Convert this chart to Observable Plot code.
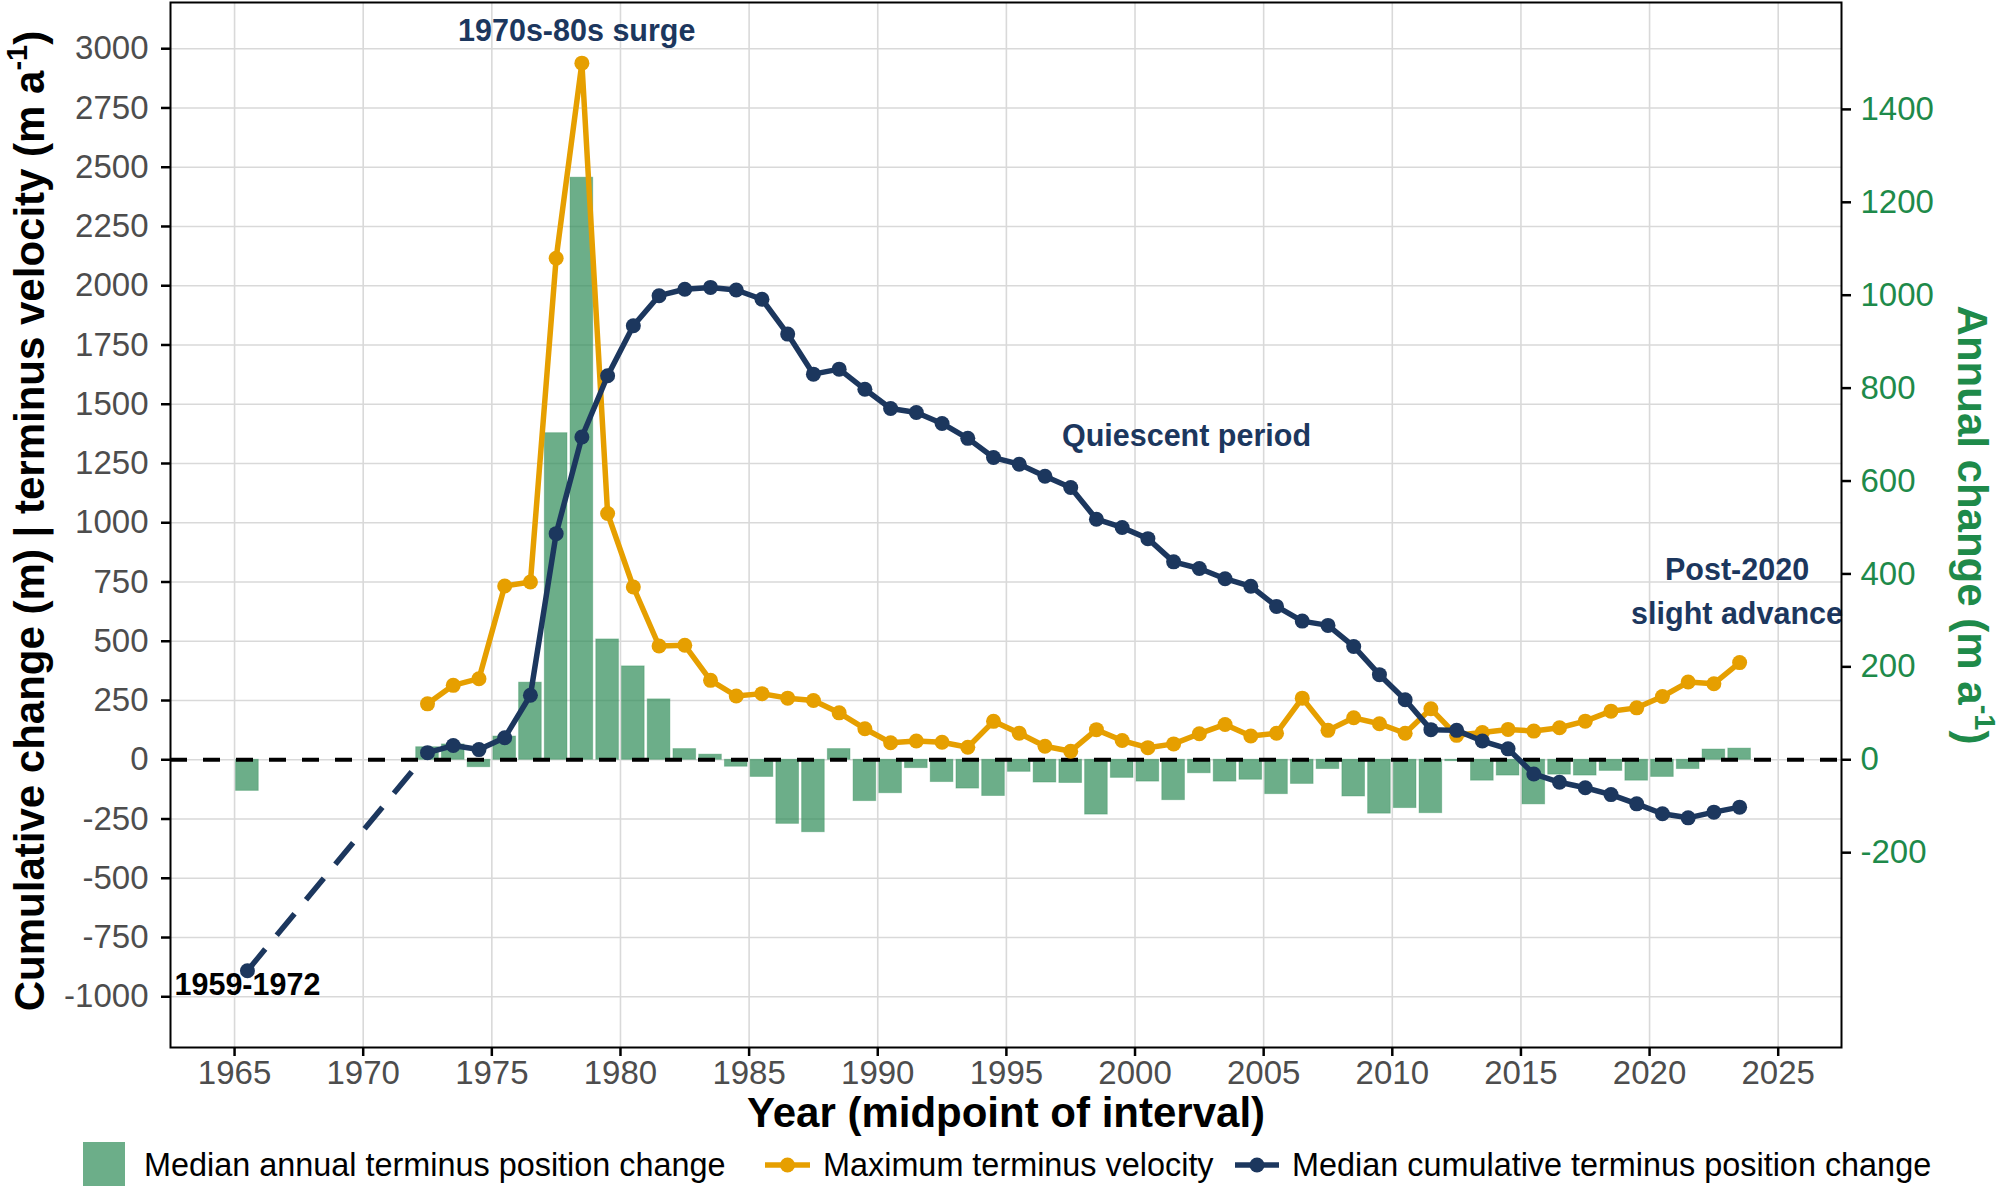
<!DOCTYPE html>
<html>
<head>
<meta charset="utf-8">
<script src="https://cdn.jsdelivr.net/npm/d3@7"></script>
<script src="https://cdn.jsdelivr.net/npm/@observablehq/plot@0.6"></script>
<style>
  body { margin: 0; background: #fff; }
  #chart svg { display: block; }
</style>
</head>
<body>
<div id="chart"></div>
<script>
// ---------------- data ----------------
const barYears = [1965.5, 1972.5, 1973.5, 1974.5, 1975.5, 1976.5, 1977.5, 1978.5, 1979.5, 1980.5,
  1981.5, 1982.5, 1983.5, 1984.5, 1985.5, 1986.5, 1987.5, 1988.5, 1989.5, 1990.5,
  1991.5, 1992.5, 1993.5, 1994.5, 1995.5, 1996.5, 1997.5, 1998.5, 1999.5, 2000.5,
  2001.5, 2002.5, 2003.5, 2004.5, 2005.5, 2006.5, 2007.5, 2008.5, 2009.5, 2010.5,
  2011.5, 2012.5, 2013.5, 2014.5, 2015.5, 2016.5, 2017.5, 2018.5, 2019.5, 2020.5,
  2021.5, 2022.5, 2023.5];
// Median annual terminus position change (m a-1), right axis
const annualChange = [-67, 27, 33, -16, 50, 166, 703, 1253, 259, 201,
  130, 23, 11, -15, -37, -138, -156, 23, -89, -72,
  -18, -48, -62, -78, -26, -49, -50, -118, -39, -47,
  -87, -29, -47, -43, -74, -52, -20, -79, -116, -104,
  -115, -3, -45, -34, -96, -32, -34, -24, -45, -37,
  -20, 22, 24];

const velYears = [1972.5, 1973.5, 1974.5, 1975.5, 1976.5, 1977.5, 1978.5, 1979.5, 1980.5,
  1981.5, 1982.5, 1983.5, 1984.5, 1985.5, 1986.5, 1987.5, 1988.5, 1989.5, 1990.5,
  1991.5, 1992.5, 1993.5, 1994.5, 1995.5, 1996.5, 1997.5, 1998.5, 1999.5, 2000.5,
  2001.5, 2002.5, 2003.5, 2004.5, 2005.5, 2006.5, 2007.5, 2008.5, 2009.5, 2010.5,
  2011.5, 2012.5, 2013.5, 2014.5, 2015.5, 2016.5, 2017.5, 2018.5, 2019.5, 2020.5,
  2021.5, 2022.5, 2023.5];
// Maximum terminus velocity (m a-1), left axis
const maxVelocity = [236, 314, 342, 733, 750, 2116, 2939, 1039, 729,
  480, 483, 335, 269, 279, 260, 250, 198, 131, 72,
  79, 74, 53, 162, 112, 57, 36, 127, 81, 51,
  67, 110, 149, 100, 112, 260, 124, 177, 152, 112,
  215, 103, 115, 128, 121, 135, 163, 205, 219, 267,
  328, 321, 410];

const cumYears = [1965.5, 1972.5, 1973.5, 1974.5, 1975.5, 1976.5, 1977.5, 1978.5, 1979.5, 1980.5,
  1981.5, 1982.5, 1983.5, 1984.5, 1985.5, 1986.5, 1987.5, 1988.5, 1989.5, 1990.5,
  1991.5, 1992.5, 1993.5, 1994.5, 1995.5, 1996.5, 1997.5, 1998.5, 1999.5, 2000.5,
  2001.5, 2002.5, 2003.5, 2004.5, 2005.5, 2006.5, 2007.5, 2008.5, 2009.5, 2010.5,
  2011.5, 2012.5, 2013.5, 2014.5, 2015.5, 2016.5, 2017.5, 2018.5, 2019.5, 2020.5,
  2021.5, 2022.5, 2023.5];
// Median cumulative terminus position change (m), left axis
const cumulativeChange = [-890, 30, 60, 43, 93, 272, 954, 1362, 1620, 1831,
  1958, 1985, 1993, 1982, 1943, 1796, 1627, 1648, 1563, 1482,
  1465, 1419, 1356, 1275, 1247, 1196, 1149, 1015, 980, 933,
  835, 807, 764, 732, 647, 585, 567, 478, 359, 253,
  127, 124, 79, 46, -60, -95, -118, -147, -186, -228,
  -245, -221, -200];

const leftTicks = [-1000, -750, -500, -250, 0, 250, 500, 750, 1000, 1250, 1500, 1750, 2000, 2250, 2500, 2750, 3000];
const rightTicks = [-200, 0, 200, 400, 600, 800, 1000, 1200, 1400];
const xTicks = [1965, 1970, 1975, 1980, 1985, 1990, 1995, 2000, 2005, 2010, 2015, 2020, 2025];

const annotationText = ["1970s-80s surge", "Quiescent period", "Post-2020\nslight advance", "1959-1972"];
const annotationX = [1978.3, 2002, 2023.4, 1965.5];
const annotationY = [3092, 1383, 726, -950];

const legendLabels = ["Median annual terminus position change", "Maximum terminus velocity", "Median cumulative terminus position change"];

// ---------------- styling ----------------
const K = 1.96; // right-axis (annual) to left-axis scale factor
const GREEN = "#2e8b57";
const ORANGE = "#E69F00";
const NAVY = "#1c375e";
const AXGREEN = "#1e8a4a";
const FONT = "'Liberation Sans', Arial, Helvetica, sans-serif";

const bars = barYears.map((year, i) => ({year, annual: annualChange[i]}));
const vel = velYears.map((year, i) => ({year, v: maxVelocity[i]}));
const cum = cumYears.map((year, i) => ({year, v: cumulativeChange[i]}));
const annos = annotationText.map((text, i) => ({text, x: annotationX[i], y: annotationY[i]}));

const chart = Plot.plot({
  width: 2000,
  height: 1142,
  marginLeft: 170,
  marginRight: 159,
  marginTop: 2,
  marginBottom: 95,
  x: {domain: [1962.51, 2027.46]},
  y: {domain: [-1214, 3195]},
  style: {fontFamily: FONT, background: "white", color: "black"},
  marks: [
    Plot.gridY({ticks: leftTicks, stroke: "#d9d9d9", strokeOpacity: 1, strokeWidth: 1.6}),
    Plot.gridX({ticks: xTicks, stroke: "#d9d9d9", strokeOpacity: 1, strokeWidth: 1.6}),
    Plot.rectY(bars, {
      x1: d => d.year - 0.44, x2: d => d.year + 0.44,
      y1: 0, y2: d => d.annual * K,
      fill: GREEN, fillOpacity: 0.7, stroke: GREEN, strokeOpacity: 0.35, strokeWidth: 1
    }),
    Plot.ruleY([0], {stroke: "black", strokeWidth: 4, strokeDasharray: "17,16"}),
    Plot.line(vel, {x: "year", y: "v", stroke: ORANGE, strokeWidth: 5.5}),
    Plot.dot(vel, {x: "year", y: "v", r: 7.5, fill: ORANGE}),
    Plot.line(cum.slice(0, 2), {x: "year", y: "v", stroke: NAVY, strokeWidth: 5.5, strokeDasharray: "28,18", strokeLinecap: "butt"}),
    Plot.line(cum.slice(1), {x: "year", y: "v", stroke: NAVY, strokeWidth: 5.5}),
    Plot.dot(cum, {x: "year", y: "v", r: 7.5, fill: NAVY}),
    Plot.text(annos.slice(0, 3), {x: "x", y: "y", text: "text", fill: NAVY, fontWeight: "bold", fontSize: 30.5, lineHeight: 1.45}),
    Plot.text(annos.slice(3), {x: "x", y: "y", text: "text", fill: "black", fontWeight: "bold", fontSize: 30.5}),
    Plot.axisY({anchor: "left", ticks: leftTicks, tickSize: 9, tickPadding: 13, tickFormat: d => String(d),
      fontSize: 33, stroke: "black", strokeWidth: 2.5, fill: "#4d4d4d", label: null}),
    Plot.axisY({anchor: "right", ticks: rightTicks.map(v => v * K), tickSize: 9, tickPadding: 10,
      tickFormat: d => String(Math.round(d / K)), fontSize: 33, stroke: "black", strokeWidth: 2.5, fill: AXGREEN, label: null}),
    Plot.axisX({ticks: xTicks, tickSize: 9, tickPadding: 4, tickFormat: d => String(d),
      fontSize: 33, stroke: "black", strokeWidth: 2.5, fill: "#4d4d4d", label: null}),
    Plot.text(["Cumulative change (m) | terminus velocity (m a^-1)"], {frameAnchor: "left", text: d => d, dx: -140, dy: -4, rotate: -90,
      textAnchor: "middle", lineAnchor: "middle", fontSize: 42, fontWeight: "bold", fill: "black"}),
    Plot.text(["Annual change (m a^-1)"], {frameAnchor: "right", text: d => d, dx: 130, rotate: 90,
      textAnchor: "middle", lineAnchor: "middle", fontSize: 42, fontWeight: "bold", fill: AXGREEN}),
    Plot.text(["Year (midpoint of interval)"], {frameAnchor: "bottom", text: d => d, dy: 66,
      textAnchor: "middle", lineAnchor: "middle", fontSize: 42, fontWeight: "bold", fill: "black"}),
    Plot.frame({stroke: "black", strokeWidth: 2})
  ]
});

// superscripts in axis titles
d3.select(chart).selectAll("text").each(function () {
  const t = this.textContent;
  if (!t.includes("^")) return;
  const [pre, rest] = t.split("^");
  const sup = rest.slice(0, 2), post = rest.slice(2);
  const sel = d3.select(this);
  sel.text(null);
  sel.append("tspan").text(pre);
  sel.append("tspan").attr("dy", -17).attr("font-size", 29).text(sup);
  sel.append("tspan").attr("dy", 17).text(post);
});

document.getElementById("chart").appendChild(chart);

// legend below the plot (plot svg is 1142 tall; legend row centred at 1165)
const leg = d3.select("#chart").append("svg")
  .attr("width", 2000).attr("height", 45)
  .style("font-family", FONT).style("background", "white");
const cy = 23;
leg.append("rect").attr("x", 83).attr("y", 0).attr("width", 42).attr("height", 44)
  .attr("fill", GREEN).attr("fill-opacity", 0.7);
leg.append("text").attr("x", 144).attr("y", cy).attr("dy", "0.35em").attr("font-size", 32.4).attr("fill", "black").text(legendLabels[0]);
leg.append("line").attr("x1", 765).attr("x2", 810).attr("y1", cy).attr("y2", cy).attr("stroke", ORANGE).attr("stroke-width", 5.5);
leg.append("circle").attr("cx", 787.5).attr("cy", cy).attr("r", 7.5).attr("fill", ORANGE);
leg.append("text").attr("x", 823).attr("y", cy).attr("dy", "0.35em").attr("font-size", 32.4).attr("fill", "black").text(legendLabels[1]);
leg.append("line").attr("x1", 1235).attr("x2", 1279).attr("y1", cy).attr("y2", cy).attr("stroke", NAVY).attr("stroke-width", 5.5);
leg.append("circle").attr("cx", 1257).attr("cy", cy).attr("r", 7.5).attr("fill", NAVY);
leg.append("text").attr("x", 1292).attr("y", cy).attr("dy", "0.35em").attr("font-size", 32.4).attr("fill", "black").text(legendLabels[2]);
</script>
</body>
</html>
